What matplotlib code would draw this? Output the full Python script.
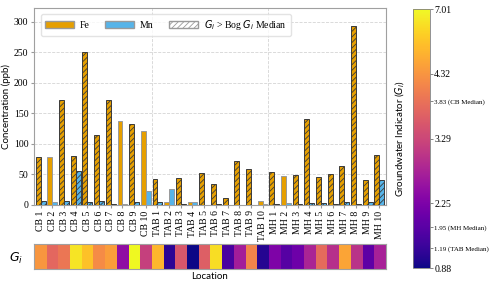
import numpy as np
import matplotlib
matplotlib.use("Agg")
import matplotlib.pyplot as plt
from matplotlib.colors import FuncNorm
from matplotlib.patches import Patch

# Data
locations = (
    [f"CB {i}" for i in range(1, 11)]
    + [f"TAB {i}" for i in range(1, 11)]
    + [f"MH {i}" for i in range(1, 11)]
)
bogs = ["CB"] * 10 + ["TAB"] * 10 + ["MH"] * 10
fe = [79, 78, 172, 80, 250, 114, 172, 138, 132, 121,
      43, 4, 44, 5, 52, 34, 11, 72, 58, 7,
      54, 48, 49, 140, 46, 51, 64, 293, 40, 82]
mn = [6, 4, 7, 56, 4, 6, 2, 2, 5, 23,
      4, 26, 1, 5, 0.5, 1.5, 0.5, 0.5, 0.5, 2,
      1, 3, 2, 3, 2.5, 2, 4, 2, 4, 41]
gi = [4.4, 3.7, 3.9, 6.5, 5.6, 4.2, 4.6, 2.45, 7.01, 3.2,
      5.3, 1.1, 3.5, 0.88, 3.6, 6.3, 1.6, 2.7, 4.1, 1.05,
      2.25, 1.88, 2.12, 2.8, 3.75, 2.95, 4.8, 3.0, 1.99, 2.75]
bog_median = {"CB": 3.83, "TAB": 1.19, "MH": 1.95}
quantile_ticks = [0.88, 2.25, 3.29, 4.32, 7.01]

# colour scale: quartiles spaced evenly, medians placed in between
knots = [0.88, 1.19, 1.95, 2.25, 3.29, 3.83, 4.32, 7.01]
knot_pos = [0.0, 0.077, 0.158, 0.25, 0.5, 0.645, 0.75, 1.0]
norm = FuncNorm(
    (lambda v: np.interp(v, knots, knot_pos),
     lambda p: np.interp(p, knot_pos, knots)),
    vmin=knots[0], vmax=knots[-1],
)

FE_COLOR = "#E69F00"
MN_COLOR = "#56B4E9"
serif = "Liberation Serif"
sans = "Lato"
plt.rcParams["font.family"] = serif
plt.rcParams["hatch.linewidth"] = 0.6

fig = plt.figure(figsize=(5, 2.83), dpi=100)
ax = fig.add_axes([0.068, 0.276, 0.704, 0.696])
ax_strip = fig.add_axes([0.068, 0.049, 0.704, 0.088])
cax = fig.add_axes([0.826, 0.053, 0.034, 0.915])

x = np.arange(len(locations))
w = 0.42
above = [g > bog_median[b] for g, b in zip(gi, bogs)]

for i in range(len(locations)):
    if above[i]:
        kw = dict(edgecolor="#3a3a3a", hatch="//////", linewidth=0.7)
    else:
        kw = dict(edgecolor="#9a9a9a", linewidth=0.7)
    ax.bar(x[i] - w / 2, fe[i], w, color=FE_COLOR, zorder=3, **kw)
    ax.bar(x[i] + w / 2, mn[i], w, color=MN_COLOR, zorder=3, **kw)

ax.set_xlim(-0.57, len(locations) - 0.43)
ax.set_ylim(0, max(fe) * 1.1)
ax.set_xticks(x)
ax.set_xticklabels(locations, rotation=90, fontsize=7)
ax.tick_params(axis="y", labelsize=7, length=2, color="#999999", pad=2)
ax.tick_params(axis="x", length=2, color="#999999", pad=2)
ax.set_ylabel("Concentration (ppb)", fontsize=7, family=sans, labelpad=2)
ax.grid(axis="y", linestyle="--", color="#d5d5d5", linewidth=0.6, zorder=0)
for sep in [9.5, 19.5]:
    ax.axvline(sep, linestyle="--", color="#d5d5d5", linewidth=0.6, zorder=0)
for s in ax.spines.values():
    s.set_color("#a0a0a0")

handles = [
    Patch(facecolor=FE_COLOR, edgecolor="#9a9a9a", label="Fe"),
    Patch(facecolor=MN_COLOR, edgecolor="#9a9a9a", label="Mn"),
    Patch(facecolor="white", edgecolor="#9a9a9a", hatch="//////",
          label="$G_i$ > Bog $G_i$ Median"),
]
ax.legend(handles=handles, ncol=3, loc="upper left", fontsize=7,
          handlelength=3.0, handletextpad=0.6, columnspacing=1.6,
          frameon=True, edgecolor="#dddddd", borderpad=0.4,
          bbox_to_anchor=(0.005, 0.995))

# Gi strip
ax_strip.imshow(np.array([gi]), cmap="plasma", norm=norm, aspect="auto",
                extent=(-0.5, len(gi) - 0.5, 0, 1))
ax_strip.set_xlim(ax.get_xlim())
ax_strip.set_xticks([])
ax_strip.set_yticks([0.5])
ax_strip.set_yticklabels(["$G_i$"], fontsize=9)
ax_strip.tick_params(axis="y", length=0, pad=8)
ax_strip.set_xlabel("Location", fontsize=7, family=sans, labelpad=2)
for s in ax_strip.spines.values():
    s.set_color("#a0a0a0")

# colorbar
sm = plt.cm.ScalarMappable(norm=norm, cmap="plasma")
cb = fig.colorbar(sm, cax=cax)
cb.outline.set_edgecolor("#808080")
cb.outline.set_linewidth(0.6)
med_labels = {v: f"{v:.2f} ({k} Median)" for k, v in bog_median.items()}
ticks = sorted(quantile_ticks + list(med_labels))
cb.set_ticks(ticks)
labels = [med_labels.get(t, f"{t:.2f}") for t in ticks]
cb.set_ticklabels(labels)
for t, lab in zip(ticks, cax.get_yticklabels()):
    lab.set_fontsize(5 if t in med_labels else 7)
cax.tick_params(length=2, pad=1, color="#555555", width=0.5)
cb.set_label("Groundwater Indicator ($G_i$)", fontsize=7, family=sans)
cax.yaxis.set_label_position("left")

fig.savefig("out.png", dpi=100)
